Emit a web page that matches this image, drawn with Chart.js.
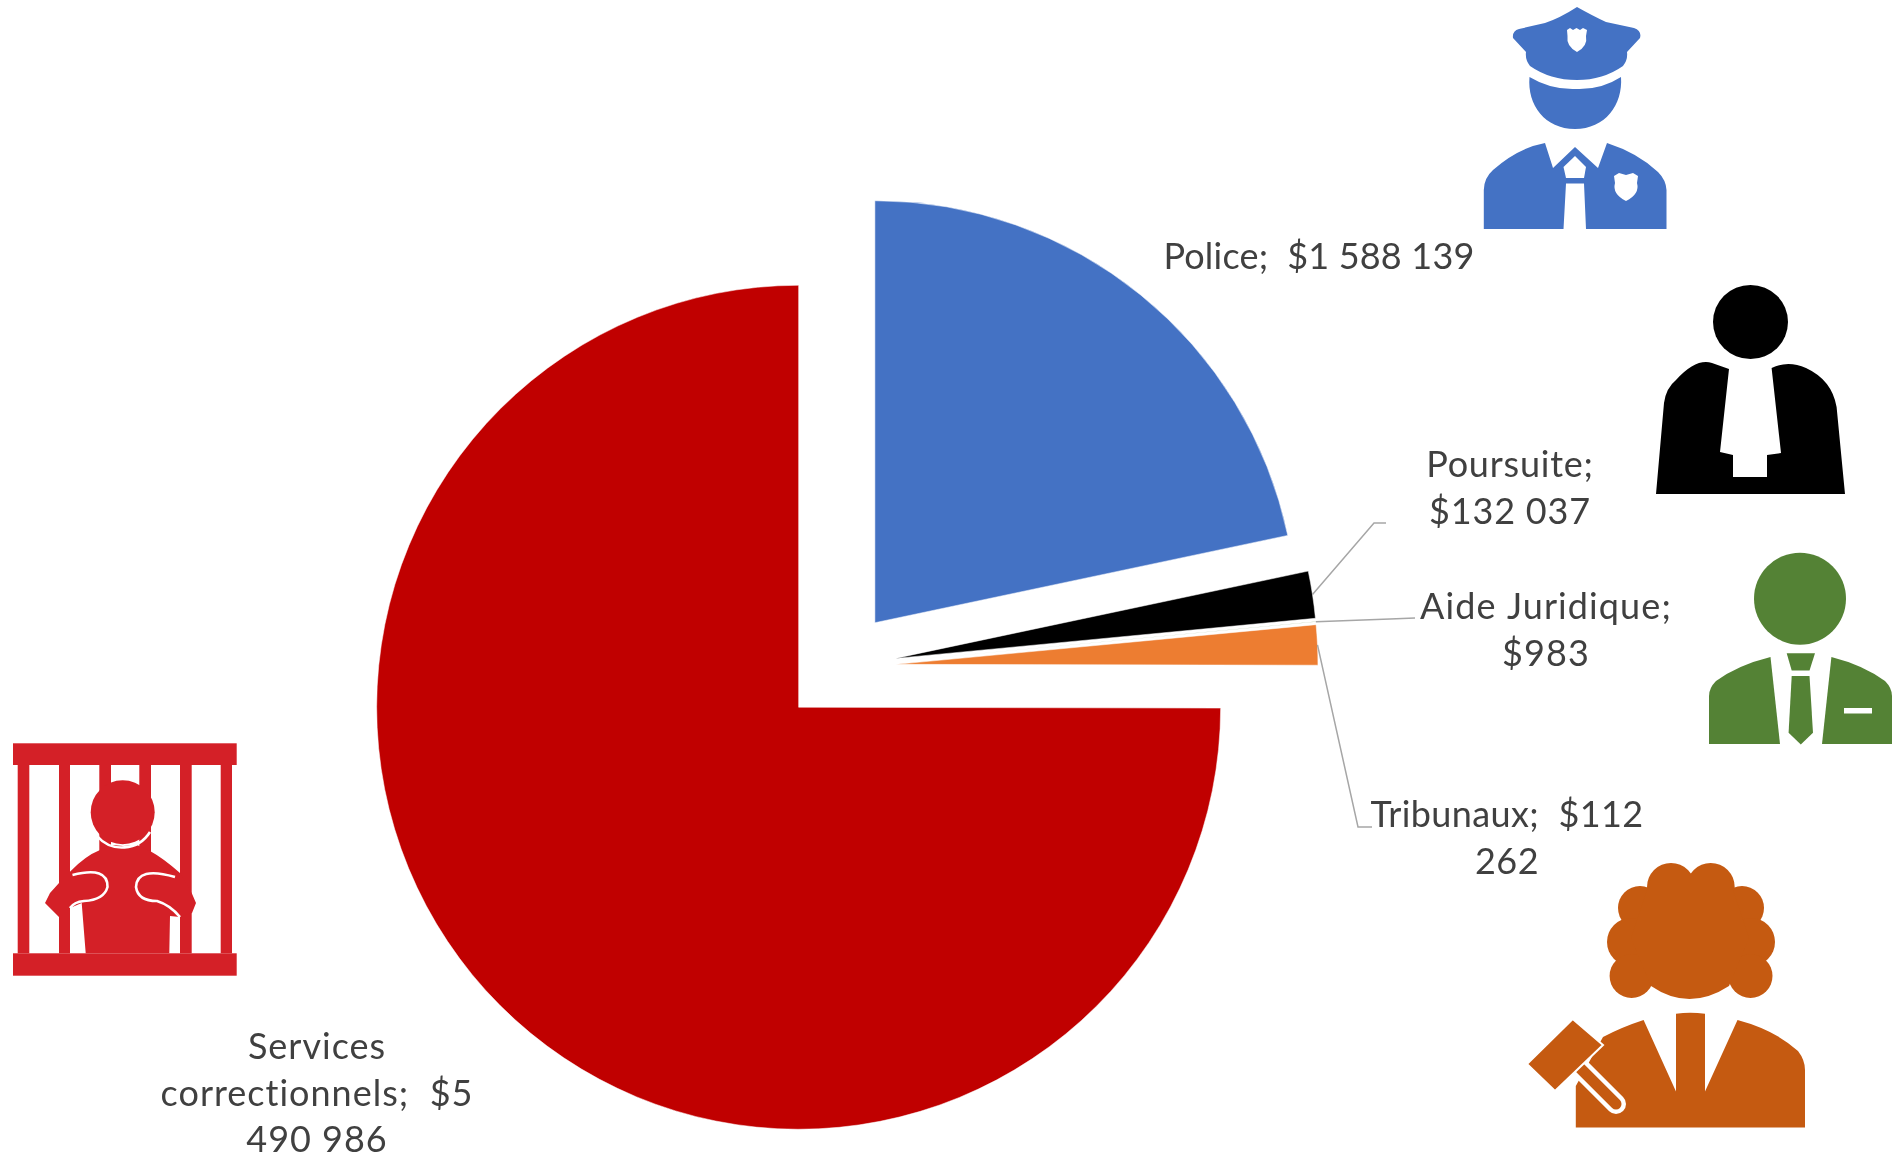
<!DOCTYPE html>
<html>
<head>
<meta charset="utf-8">
<style>
  html, body { margin: 0; padding: 0; background: #fff; overflow: hidden; }
  #wrap { position: relative; width: 1893px; height: 1158px; }
  #chart, #icons { position: absolute; left: 0; top: 0; }
</style>
<script src="https://cdn.jsdelivr.net/npm/chart.js@4"></script>
</head>
<body>
<div id="wrap">
  <canvas id="chart" width="1893" height="1158"></canvas>
  <svg id="icons" width="1893" height="1158" viewBox="0 0 1893 1158">
    <!-- police -->
    <g fill="#4472C4">
      <path d="M1577 7Q1560 18 1545 23L1519 29Q1512 31 1513 38L1526 52Q1525 60 1530 66Q1550 80 1577 80Q1603 80 1623 66Q1628 60 1627 52L1640 38Q1642 31 1634 28L1606 22Q1593 16 1577 7Z"/>
      <path d="M1529.5 77Q1551 90 1576 89Q1601 90 1621 77C1623 105 1605 129 1575 129C1545 129 1527 105 1529.5 77Z"/>
      <path d="M1545 143L1553 168L1575 147L1598 168L1607 143Q1638 153 1658 172Q1666 180 1666.5 190L1666.5 229L1586 229L1584 183.5L1566 183.5L1563.5 229L1483.8 229L1483.8 190Q1484 178 1493 170Q1518 148 1545 143Z"/>
    </g>
    <g fill="#fff">
      <path d="M1567 30L1570 28L1573 30L1576.5 28L1580 30L1583 28L1587 30L1586 36Q1588 46 1577 52Q1566 46 1567.5 36Z"/>
      <path d="M1575 156L1586 167L1584 178L1566 178L1563.5 167Z"/>
      <path d="M1614 176L1619 173L1626 175L1633 173L1638 176L1637 183Q1640 194 1626 201Q1612 194 1615 183Z"/>
    </g>
    <!-- prosecutor -->
    <g fill="#000">
      <ellipse cx="1750.5" cy="322" rx="37.5" ry="37"/>
      <path d="M1656 494L1664 403Q1666 388 1676 380Q1696 358 1712 363L1729 369L1720 452L1733 455L1733 477L1767 477L1767 455L1781 453L1771.6 368Q1788 360 1806 368Q1832 380 1836.6 407L1845 494Z"/>
    </g>
    <!-- legal aid -->
    <g fill="#548235">
      <circle cx="1800" cy="598.7" r="46"/>
      <path d="M1770.5 657L1780 744L1709 744L1709 696Q1709 688 1716 681Q1738 665 1770.5 657Z"/>
      <path d="M1831.4 657L1822 744L1892 744L1892 696Q1892 688 1885 681Q1863 665 1831.4 657Z"/>
      <path d="M1786.7 653.3L1815 653.3L1809.5 670.5L1791.7 670.5Z"/>
      <path d="M1791.7 676L1809.5 676L1813 732.7L1800.8 744.5L1788.6 732.7Z"/>
    </g>
    <rect x="1844" y="708" width="28" height="5.5" fill="#fff"/>
    <!-- judge -->
    <g fill="#C55A11">
      <circle cx="1671" cy="887" r="24"/>
      <circle cx="1710.7" cy="887" r="24"/>
      <circle cx="1640" cy="908" r="22"/>
      <circle cx="1742" cy="908" r="22"/>
      <circle cx="1631" cy="942" r="24"/>
      <circle cx="1751" cy="942" r="24"/>
      <circle cx="1631.6" cy="976" r="22"/>
      <circle cx="1750.5" cy="976" r="22"/>
      <path d="M1651 878L1729 878L1749 938L1729 986Q1689 1012 1651 986L1631 938Z"/>
      <path d="M1603 1037Q1622 1027 1643.6 1020L1676 1091.4L1676 1013.7Q1690 1012 1705 1013.7L1705 1091.4L1737.5 1020Q1775 1030 1798 1051Q1805 1060 1805 1070L1805 1127.4L1575.8 1127.4L1575.8 1086Z"/>
    </g>
    <path d="M1571 1059L1616 1104" stroke="#fff" stroke-width="20" stroke-linecap="round" fill="none"/>
    <path d="M1571 1059L1616 1104" stroke="#C55A11" stroke-width="11" stroke-linecap="round" fill="none"/>
    <path d="M1572.7 1019L1603 1045L1555 1091L1527 1064Z" fill="#C55A11" stroke="#fff" stroke-width="2"/>
    <!-- prison -->
    <g fill="#D42027">
      <rect x="13" y="743.3" width="223.7" height="21.7"/>
      <rect x="13" y="953.3" width="223.7" height="22.4"/>
      <rect x="17.7" y="765" width="11.6" height="188.3"/>
      <rect x="59" y="765" width="11" height="188.3"/>
      <rect x="99.3" y="765" width="11.7" height="90"/>
      <rect x="139.3" y="765" width="11.7" height="90"/>
      <rect x="180" y="765" width="11.7" height="188.3"/>
      <rect x="220.7" y="765" width="11.3" height="188.3"/>
      <circle cx="122.7" cy="812.3" r="32"/>
      <path d="M70 871.7Q85 856 100 850L112 845L123 846L137 845L150 851Q163 858 180 873L191.7 893L196 903L192 913L180 917L170 916L169.3 953.3L85.7 953.3L81.7 903L70 908L70 917L59 917L45 903L50 893L59 883Z"/>
    </g>
    <g fill="none" stroke="#fff" stroke-width="2.6">
      <path d="M97 836A33 33 0 0 0 150 832"/>
      <path d="M72.5 875Q108 866 107.5 887Q104 900 84 901Q74 902 70 908"/>
      <path d="M175 877Q137 866 136 887Q138 901 157 901Q170 905 180 917"/>
    </g>
  </svg>
</div>
<script>
// Budget par composante
const categories = ["Police", "Poursuite", "Aide Juridique", "Tribunaux", "Services correctionnels"];
const values = [1588139, 132037, 983, 112262, 5490986];
const sliceColors = ["#4472C4", "#000000", "#548235", "#ED7D31", "#C00000"];
const labelLines = [
  ["Police;  $1 588 139"],
  ["Poursuite;", "$132 037"],
  ["Aide Juridique;", "$983"],
  ["Tribunaux;  $112", "262"],
  ["Services", "correctionnels;  $5", "490 986"],
];
// centre x / first baseline of each label, then leader elbow and end
const labelPos = [[1319, 269], [1510, 477], [1546, 619], [1507, 827], [317, 1059]];
const labelSpacing = ["0.2px", "0.8px", "1.1px", "0.4px", "1px"];
const leaders = [null, [[1374, 523], [1386, 523]], [[1390, 619], [1415, 618]], [[1358, 827], [1372, 827]], null];

const labelFont = "36px Lato";
const lineGap = 46.5;
const explode = 57;

// options.offset also grows the radius of some slices, so move each arc out along its middle instead
const drawArc = Chart.ArcElement.prototype.draw;
Chart.ArcElement.prototype.draw = function (ctx) {
  const mid = (this.startAngle + this.endAngle) / 2;
  ctx.save();
  ctx.translate(Math.cos(mid) * explode, Math.sin(mid) * explode);
  drawArc.call(this, ctx);
  ctx.restore();
};

// core Chart.js has no data labels, so draw them here
const labelPlugin = {
  id: "sliceLabels",
  afterDatasetsDraw(chart) {
    const ctx = chart.ctx;
    const arcs = chart.getDatasetMeta(0).data;
    ctx.save();
    arcs.forEach((arc, i) => {
      if (leaders[i]) {
        const mid = (arc.startAngle + arc.endAngle) / 2;
        const r = arc.outerRadius + explode;
        ctx.beginPath();
        ctx.moveTo(arc.x + Math.cos(mid) * r, arc.y + Math.sin(mid) * r);
        leaders[i].forEach((p) => ctx.lineTo(p[0], p[1]));
        ctx.strokeStyle = "#A6A6A6";
        ctx.lineWidth = 1.5;
        ctx.stroke();
      }
      ctx.font = labelFont;
      ctx.letterSpacing = labelSpacing[i];
      ctx.fillStyle = "#404040";
      ctx.textAlign = "center";
      labelLines[i].forEach((line, n) => {
        ctx.fillText(line, labelPos[i][0], labelPos[i][1] + n * lineGap);
      });
    });
    ctx.restore();
  },
};

new Chart(document.getElementById("chart").getContext("2d"), {
  type: "pie",
  data: {
    labels: categories,
    datasets: [{
      data: values,
      backgroundColor: sliceColors,
      borderColor: "#ffffff",
      borderWidth: 0.5,
    }],
  },
  options: {
    responsive: false,
    animation: false,
    radius: 422,
    layout: { padding: { top: 176, right: 215 } },
    plugins: { legend: { display: false }, tooltip: { enabled: false } },
  },
  plugins: [labelPlugin],
});
</script>
</body>
</html>
